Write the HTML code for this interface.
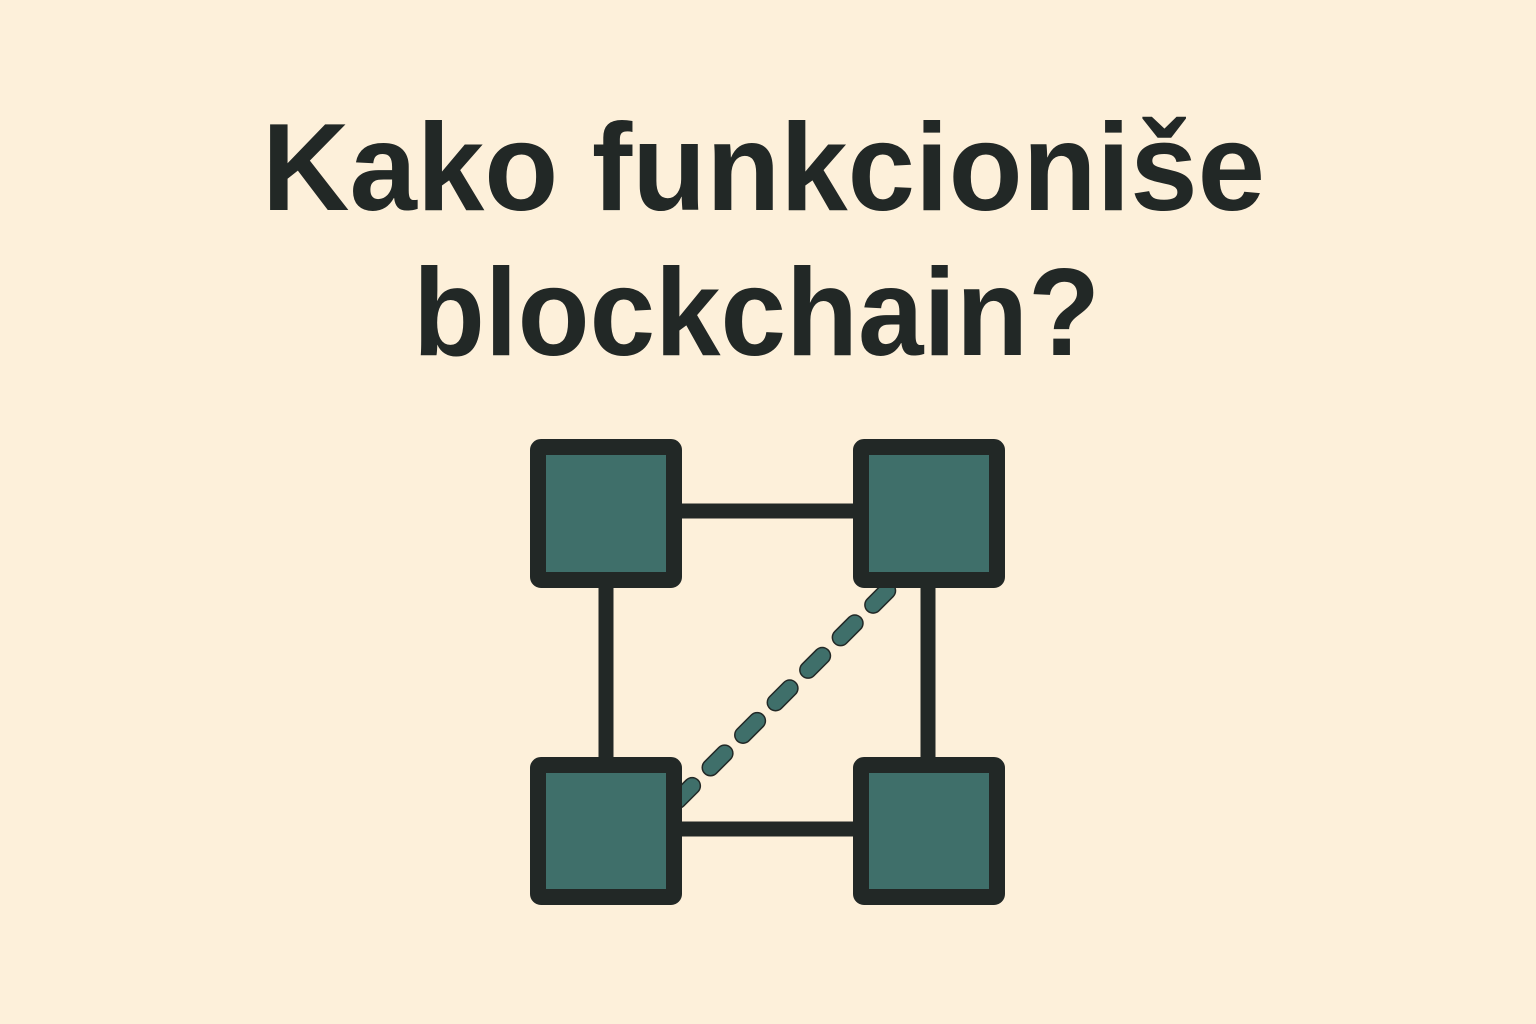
<!DOCTYPE html>
<html><head><meta charset="utf-8"><style>
html,body{margin:0;padding:0;background:#fdf0da;}
svg{display:block}
</style></head><body>
<svg width="1536" height="1024" viewBox="0 0 1536 1024" xmlns="http://www.w3.org/2000/svg">
<rect width="1536" height="1024" fill="#fdf0da"/>
<g font-family="Liberation Sans, sans-serif" font-weight="bold" fill="#222826" font-size="124">
<text x="262" y="210" textLength="1003" lengthAdjust="spacingAndGlyphs">Kako funkcioniše</text>
<text x="413" y="355" textLength="687" lengthAdjust="spacingAndGlyphs">blockchain?</text>
</g>
<g stroke="#222826" stroke-width="15">
<line x1="670" y1="511" x2="865" y2="511"/>
<line x1="670" y1="829" x2="865" y2="829"/>
<line x1="606" y1="580" x2="606" y2="765"/>
<line x1="928" y1="580" x2="928" y2="765"/>
</g>
<line x1="900" y1="578" x2="672" y2="806" stroke="#222826" stroke-width="18" stroke-linecap="round" stroke-dasharray="20 26" stroke-dashoffset="28"/>
<line x1="900" y1="578" x2="672" y2="806" stroke="#3f6f6a" stroke-width="15" stroke-linecap="round" stroke-dasharray="20 26" stroke-dashoffset="28"/>
<g fill="#3f6f6a" stroke="#222826" stroke-width="16">
<rect x="538" y="447" width="136" height="133" rx="3"/>
<rect x="861" y="447" width="136" height="133" rx="3"/>
<rect x="538" y="765" width="136" height="132" rx="3"/>
<rect x="861" y="765" width="136" height="132" rx="3"/>
</g>
</svg>
</body></html>
